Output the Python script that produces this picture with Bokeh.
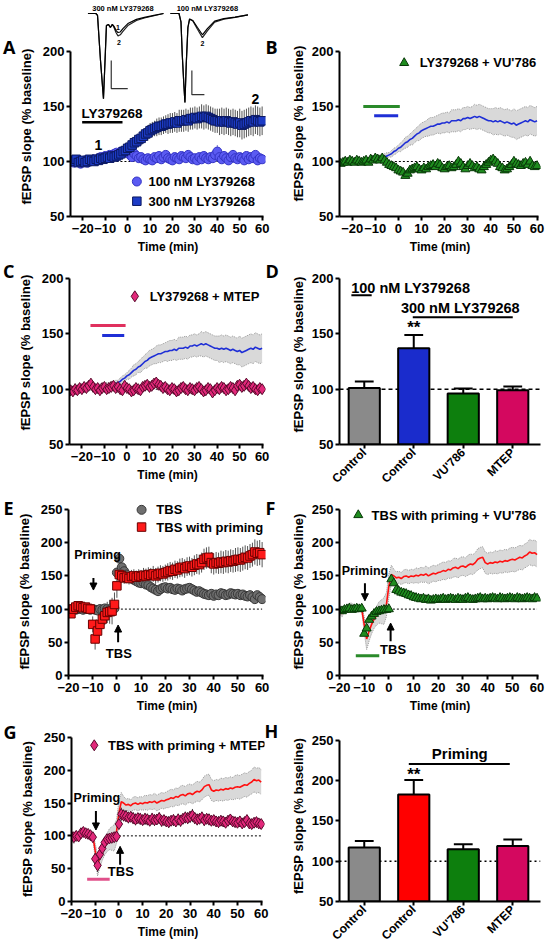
import math
from bokeh.plotting import figure
from bokeh.layouts import column, row
from bokeh.models import (Range1d, FixedTicker, Label, Arrow, NormalHead, CustomJSTickFormatter,
                          LinearAxis)
from bokeh.embed import file_html
from bokeh.resources import INLINE

FONT = "Liberation Sans"
LFONT = "Open Sans"

# ------------------------------------------------------------------ data
t_ly = list(range(-25, 61))          # minutes, panels A-C
ly100 = [100, 99, 101, 100, 98, 100, 101, 99, 100, 101,
         102, 101, 103, 104, 103, 105, 104, 106, 105, 107,
         108, 107, 109, 108, 110, 109, 106, 104, 107, 105,
         103, 104, 102, 101, 103, 102, 101, 104, 103, 105,
         102, 104, 106, 103, 102, 101, 104, 103, 102, 105,
         104, 103, 106, 104, 102, 103, 101, 104, 102, 105,
         103, 102, 104, 103, 106, 109, 104, 102, 105, 103,
         101, 104, 106, 103, 102, 104, 103, 101, 105, 102,
         104, 103, 106, 101, 103, 102]
ly100_sem = [2, 3, 2, 2, 3, 2, 3, 2, 2, 3,
             3, 2, 3, 3, 2, 3, 3, 2, 3, 3,
             3, 3, 2, 3, 3, 3, 3, 2, 3, 3,
             3, 2, 3, 3, 3, 3, 2, 3, 3, 3,
             3, 3, 3, 2, 3, 3, 3, 3, 3, 3,
             3, 3, 3, 3, 2, 3, 3, 3, 3, 3,
             3, 3, 3, 3, 3, 6, 3, 3, 3, 3,
             3, 3, 3, 3, 3, 3, 3, 3, 3, 3,
             3, 3, 3, 3, 3, 3]
ly300 = [101, 100, 102, 99, 100, 101, 99, 100, 102, 101,
         100, 102, 101, 103, 102, 103, 104, 103, 105, 104,
         105, 106, 107, 109, 110, 112, 113, 115, 117, 118,
         120, 121, 123, 125, 126, 128, 129, 130, 131, 132,
         132, 133, 134, 134, 135, 135, 136, 135, 137, 137,
         137, 138, 137, 139, 139, 140, 139, 140, 141, 140,
         141, 140, 139, 138, 137, 137, 136, 137, 136, 137,
         136, 135, 136, 135, 134, 135, 133, 134, 135, 136,
         137, 136, 138, 137, 136, 137]
ly300_sem = [2, 2, 3, 2, 2, 3, 2, 2, 3, 2,
             2, 3, 2, 2, 3, 2, 2, 3, 2, 3,
             3, 2, 3, 3, 3, 3, 4, 4, 5, 5,
             5, 6, 6, 6, 7, 7, 7, 7, 8, 8,
             8, 8, 8, 9, 9, 9, 9, 9, 10, 10,
             10, 10, 10, 10, 10, 10, 10, 10, 11, 11,
             11, 11, 11, 11, 11, 11, 12, 12, 12, 12,
             12, 12, 12, 12, 12, 13, 13, 13, 13, 13,
             13, 13, 13, 13, 13, 13]
ly_vu786 = [98, 99, 100, 99, 101, 100, 99, 101, 100, 99,
            100, 101, 99, 102, 101, 103, 102, 101, 103, 101,
            99, 97, 96, 95, 94, 92, 91, 90, 87, 89,
            92, 93, 94, 95, 93, 92, 94, 93, 95, 96,
            97, 95, 98, 97, 94, 93, 95, 96, 94, 95,
            97, 100, 98, 95, 93, 96, 98, 96, 94, 95,
            93, 92, 95, 97, 99, 101, 102, 100, 98, 95,
            94, 92, 93, 95, 97, 100, 98, 97, 96, 98,
            99, 97, 100, 96, 95, 96]
ly_mtep = [99, 98, 100, 99, 101, 100, 102, 101, 103, 105,
           102, 100, 101, 99, 101, 102, 100, 101, 102, 103,
           101, 102, 100, 99, 103, 101, 100, 98, 99, 101,
           100, 99, 102, 103, 104, 102, 103, 105, 106, 104,
           103, 101, 102, 100, 99, 101, 100, 98, 99, 101,
           102, 100, 99, 101, 100, 99, 101, 102, 100, 98,
           99, 101, 100, 97, 99, 101, 100, 102, 101, 99,
           100, 102, 101, 99, 103, 104, 102, 103, 105, 103,
           101, 102, 100, 99, 101, 100]

t_tbs = list(range(-20, 61))         # minutes, panels E-G
tbs = [100, 98, 101, 99, 100, 101, 99, 100, 101, 99,
       100, 99, 98, 100, 99, 101, 100, 99, 102, 101,
       155, 176, 163, 157, 152, 148, 146, 144, 142, 140,
       139, 140, 137, 136, 133, 131, 129, 127, 130, 132,
       133, 131, 132, 130, 129, 131, 130, 128, 130, 131,
       132, 130, 128, 126, 127, 125, 123, 122, 121, 123,
       120, 122, 121, 124, 123, 121, 122, 124, 123, 122,
       123, 121, 122, 120, 119, 121, 118, 115, 121, 118, 115]
tbs_prim = [97, 93, 100, 103, 105, 104, 102, 103, 101, 100,
            77, 55, 67, 77, 85, 90, 95, 96, 97, 107,
            135, 152, 150, 147, 148, 146, 149, 150, 148, 150,
            149, 151, 150, 152, 151, 153, 150, 152, 154, 153,
            155, 156, 158, 157, 160, 159, 162, 163, 161, 164,
            165, 163, 166, 168, 167, 170, 175, 177, 178, 170,
            168, 170, 169, 171, 170, 172, 171, 173, 172, 174,
            175, 174, 176, 178, 177, 180, 182, 186, 184, 185, 182]
tbs_prim_sem = [4, 5, 4, 3, 4, 5, 4, 3, 4, 4,
                12, 16, 15, 14, 14, 14, 16, 18, 20, 18,
                18, 14, 10, 9, 9, 9, 10, 10, 10, 10,
                10, 11, 11, 11, 11, 12, 12, 12, 12, 12,
                12, 13, 13, 13, 13, 13, 14, 14, 14, 14,
                14, 14, 15, 15, 15, 15, 16, 16, 16, 16,
                16, 16, 16, 17, 17, 17, 17, 17, 17, 18,
                18, 18, 18, 18, 18, 18, 18, 19, 19, 19, 19]
tbs_vu = [98, 97, 99, 100, 101, 99, 100, 101, 100, 101,
          63, 71, 84, 89, 93, 96, 97, 98, 99, 99,
          100, 145, 139, 129, 127, 125, 124, 123, 121, 120,
          118, 117, 116, 115, 116, 114, 115, 113, 114, 115,
          114, 115, 116, 114, 115, 116, 115, 114, 116, 115,
          114, 116, 117, 115, 114, 115, 116, 117, 115, 116,
          115, 116, 117, 116, 115, 117, 116, 115, 116, 117,
          116, 115, 117, 116, 115, 116, 117, 116, 115, 117, 116]
tbs_mtep = [99, 98, 100, 99, 104, 106, 104, 103, 101, 98,
            65, 55, 72, 81, 90, 95, 96, 97, 98, 99,
            118, 133, 131, 130, 128, 129, 127, 125, 127, 126,
            124, 126, 125, 123, 126, 124, 125, 127, 123, 124,
            122, 121, 123, 124, 122, 125, 123, 126, 128, 127,
            129, 131, 127, 125, 126, 128, 124, 126, 125, 123,
            124, 122, 121, 123, 122, 120, 123, 125, 122, 121,
            120, 122, 119, 121, 124, 119, 118, 120, 121, 119, 118]
tbs_mtep_sem = [3, 3, 2, 3, 4, 3, 3, 2, 3, 3,
                8, 10, 9, 8, 8, 7, 7, 6, 6, 6,
                8, 10, 9, 9, 9, 8, 9, 9, 8, 9,
                8, 9, 9, 8, 9, 9, 8, 9, 9, 8,
                8, 9, 8, 9, 8, 9, 9, 8, 9, 9,
                9, 10, 9, 9, 8, 9, 9, 8, 9, 8,
                8, 8, 9, 8, 8, 7, 8, 8, 7, 8,
                7, 8, 7, 7, 8, 7, 7, 7, 7, 6, 6]

bar_labels = ["Control", "Control", "VU'786", "MTEP"]
d_vals = [101, 137, 96, 99]
d_errs = [6, 12, 4.5, 3.5]
h_vals = [117, 183, 115, 119]
h_errs = [8, 18, 6, 8]

# example fEPSP traces (ms, mV)
tr300_ms = [0, 2.4, 2.9, 3.8, 4.7, 5.3, 5.6, 6.2, 6.8, 7.4, 7.9, 8.5, 9.1, 9.8, 10.6, 12.1, 14.7, 17.1, 20.0, 22.9]
tr300_s1 = [0, 0, -0.07, -1.68, -3.04, -1.32, -0.43, -0.39, -0.5, -0.39, -0.46, -0.6, -0.68, -0.66, -0.54, -0.36, -0.21, -0.14, -0.07, 0]
tr300_s2 = [0, 0, -0.07, -1.68, -3.04, -1.32, -0.43, -0.39, -0.5, -0.39, -0.5, -0.68, -0.8, -0.76, -0.64, -0.43, -0.25, -0.16, -0.08, 0]
tr100_ms = [0, 2.6, 3.2, 3.6, 4.1, 4.4, 4.8, 5.3, 5.8, 6.8, 8.2, 9.7, 11.2, 13.4, 16.2, 19.6, 23.5]
tr100_s1 = [0, 0, -0.3, -1.5, -2.6, -3.18, -1.8, -0.5, -0.2, -0.25, -0.5, -0.76, -0.54, -0.27, -0.18, -0.13, -0.05]
tr100_s2 = [0, 0, -0.3, -1.5, -2.6, -3.18, -1.8, -0.5, -0.2, -0.27, -0.56, -0.86, -0.62, -0.31, -0.2, -0.14, -0.05]

for arr in (ly100, ly100_sem, ly300, ly300_sem, ly_vu786, ly_mtep):
    assert len(arr) == len(t_ly), len(arr)
for arr in (tbs, tbs_prim, tbs_prim_sem, tbs_vu, tbs_mtep, tbs_mtep_sem):
    assert len(arr) == len(t_tbs), len(arr)

# ------------------------------------------------------------------ colours
C_CIRC, C_CIRC_L = "#5b5bf2", "#3434c4"
C_SQ, C_SQ_L = "#1d3cc6", "#0b1860"
C_GREEN, C_GREEN_L = "#1f8c1f", "#083808"
C_PINK, C_PINK_L = "#e2287a", "#5a0a2c"
C_GRAY, C_GRAY_L = "#6f6f6f", "#383838"
C_RED, C_RED_L = "#ff1a1a", "#6a0000"
C_BLUE_LINE = "#1f2fd6"
C_RED_LINE = "#ff1010"
BAND = "#d9d9d9"
XTICKS = [-20, -10, 0, 10, 20, 30, 40, 50, 60]
YLABEL = "fEPSP slope (% baseline)"

# layout geometry (pixels)
LW, RW = 281, 265          # column widths
LBL, RBL = 64, 58          # left borders
FW = 201                   # frame widths


def styled(W, H, bl, bt, fw, fh, xr, yr):
    p = figure(width=W, height=H, x_range=Range1d(*xr), y_range=Range1d(*yr),
               min_border_left=bl, min_border_right=W - bl - fw,
               min_border_top=bt, min_border_bottom=H - bt - fh,
               output_backend="svg", toolbar_location=None, title=None)
    p.outline_line_color = None
    p.xgrid.visible = False
    p.ygrid.visible = False
    for ax in (p.xaxis[0], p.yaxis[0]):
        ax.axis_line_width = 2
        ax.axis_line_color = "black"
        ax.major_tick_line_width = 2
        ax.major_tick_line_color = "black"
        ax.major_tick_out = 4
        ax.major_tick_in = 0
        ax.minor_tick_line_color = None
        ax.major_label_text_font = FONT
        ax.major_label_text_font_style = "bold"
        ax.major_label_text_font_size = "13px"
        ax.major_label_text_color = "black"
        ax.axis_label_text_font = FONT
        ax.axis_label_text_font_style = "bold"
        ax.axis_label_text_color = "black"
    p.yaxis.major_label_standoff = 2
    p.xaxis.major_label_standoff = 3
    return p


def side_text(p, side, yc, text, font, size, standoff, orientation="horizontal"):
    # a text placed beside the frame at data height yc, drawn as the single tick label of an empty axis
    ax = LinearAxis(ticker=FixedTicker(ticks=[yc]), bounds=(yc - 0.5, yc + 0.5),
                    formatter=CustomJSTickFormatter(args=dict(s=text), code="return s;"),
                    axis_line_color=None, major_tick_line_color=None, minor_tick_line_color=None,
                    major_tick_out=0, major_tick_in=0, major_label_standoff=standoff,
                    major_label_orientation=orientation,
                    major_label_text_font=font, major_label_text_font_style="bold",
                    major_label_text_font_size=size, major_label_text_color="black")
    p.add_layout(ax, side)


def ylabel(p, yc, standoff):
    side_text(p, "left", yc, YLABEL, FONT, "13px", standoff, "vertical")


def letter(p, ch, yc, side="left", standoff=1):
    side_text(p, side, yc, ch, LFONT, "18px", standoff)


def time_panel(W, H, bl, bt, fh, xr, yr, xb, yb, yticks):
    p = styled(W, H, bl, bt, FW, fh, xr, yr)
    p.xaxis.bounds = xb
    p.yaxis.bounds = yb
    p.xaxis.ticker = FixedTicker(ticks=XTICKS)
    p.yaxis.ticker = FixedTicker(ticks=yticks)
    p.xaxis.axis_label = "Time (min)"
    p.xaxis.axis_label_text_font_size = "12px"
    p.xaxis.axis_label_standoff = 4
    return p


def bar_panel(W, H, bl, bt, fh, yr, yb, yticks, vals, errs):
    p = styled(W, H, bl, bt, FW, fh, (0, 4 * FW / 198), yr)
    p.yaxis.ticker = FixedTicker(ticks=yticks)
    p.yaxis.bounds = yb
    xs = [i + 0.5 for i in range(len(vals))]
    p.xaxis.ticker = FixedTicker(ticks=xs)
    p.xaxis.bounds = (0, 4 * FW / 198)
    p.xaxis.formatter = CustomJSTickFormatter(args=dict(labels=bar_labels),
                                              code="return labels[Math.floor(tick)];")
    p.xaxis.major_label_orientation = math.pi / 4
    p.xaxis.major_label_text_font_size = "12px"
    p.xaxis.major_label_standoff = 2
    tops = [v + e for v, e in zip(vals, errs)]
    p.segment(x0=xs, y0=vals, x1=xs, y1=tops, line_color="black", line_width=2)
    p.segment(x0=[x - 0.19 for x in xs], y0=tops, x1=[x + 0.19 for x in xs], y1=tops,
              line_color="black", line_width=2)
    return p, xs


def txt(p, x, y, s, size="13px", align="left", baseline="middle", **kw):
    p.add_layout(Label(x=x, y=y, text=s, text_font=FONT, text_font_style="bold",
                       text_font_size=size, text_align=align, text_baseline=baseline,
                       text_color="black", **kw))


def arrow(p, x0, y0, x1, y1):
    p.add_layout(Arrow(end=NormalHead(size=7, fill_color="black", line_color="black", line_width=1),
                       x_start=x0, y_start=y0, x_end=x1, y_end=y1,
                       line_width=2, line_color="black"))


def band(p, t, mean, sem, color):
    lo = [m - s for m, s in zip(mean, sem)]
    hi = [m + s for m, s in zip(mean, sem)]
    p.varea(x=t, y1=lo, y2=hi, fill_color=BAND, fill_alpha=1.0)
    p.line(t, lo, line_color="#9a9a9a", line_width=1, line_dash="1 1")
    p.line(t, hi, line_color="#9a9a9a", line_width=1, line_dash="1 1")
    p.line(t, mean, line_color=color, line_width=1.6)


def errbars(p, t, mean, sem, color="#555555"):
    p.segment(x0=t, y0=[m - s for m, s in zip(mean, sem)], x1=t,
              y1=[m + s for m, s in zip(mean, sem)], line_color=color, line_width=1)


def baseline(p, x0, x1, dash="2 2"):
    p.line([x0, x1], [100, 100], line_color="black", line_width=1, line_dash=dash)


L_YSTAND, R_YSTAND = 5, 2

# ------------------------------------------------------------------ row 1
R1 = dict(H=258, bt=3, fh=213)
YR1 = (50, 243.6)
XR_LY = (-25.5, 61.5)
XB_LY = (-25.5, 60.5)

pA = time_panel(LW, R1["H"], LBL, R1["bt"], R1["fh"], XR_LY, YR1, XB_LY, (50, 200), [50, 100, 150, 200])
# example traces on their own (ms, mV) scales
fl, fr = LBL, LBL + FW
pA.extra_x_ranges = {"tr300": Range1d((fl - 82) / 3.4, (fr - 82) / 3.4),
                     "tr100": Range1d((fl - 167) / 3.4, (fr - 167) / 3.4)}
pA.extra_y_ranges = {"trv": Range1d((13 - (R1["bt"] + R1["fh"])) / 28.0, (13 - R1["bt"]) / 28.0)}
for nm, tms, s1, s2 in (("tr300", tr300_ms, tr300_s1, tr300_s2), ("tr100", tr100_ms, tr100_s1, tr100_s2)):
    pA.line(tms, s2, x_range_name=nm, y_range_name="trv", line_color="#222222", line_width=1.2)
    pA.line(tms, s1, x_range_name=nm, y_range_name="trv", line_color="black", line_width=1.2)
for nm, sx, sy, lms, lmv in (("tr300", 7.06, -1.68, 5.0, 1.0), ("tr100", 6.5, -2.04, 3.8, 0.86)):
    pA.line([sx, sx, sx + lms], [sy, sy - lmv, sy - lmv], x_range_name=nm, y_range_name="trv",
            line_color="#333333", line_width=1.2)
txt(pA, 10.6, 0.17, "300 nM LY379268", size="7.5px", align="center", x_range_name="tr300", y_range_name="trv")
txt(pA, 11.2, 0.17, "100 nM LY379268", size="7.5px", align="center", x_range_name="tr100", y_range_name="trv")
txt(pA, 9.1, -0.5, "1", size="7px", align="center", x_range_name="tr300", y_range_name="trv")
txt(pA, 9.4, -1.04, "2", size="7px", align="center", x_range_name="tr300", y_range_name="trv")
txt(pA, 9.7, -1.07, "2", size="7px", align="center", x_range_name="tr100", y_range_name="trv")

baseline(pA, -5, 60)
errbars(pA, t_ly, ly100, ly100_sem, "#7777cc")
pA.scatter(t_ly, ly100, marker="circle", size=9, fill_color=C_CIRC, line_color=C_CIRC_L, line_width=1)
errbars(pA, t_ly, ly300, ly300_sem, "#555555")
pA.scatter(t_ly, ly300, marker="square", size=8.5, fill_color=C_SQ, line_color=C_SQ_L, line_width=1)
txt(pA, -7, 144, "LY379268", size="13.5px", align="center")
pA.line([-20.3, -2.3], [135.6, 135.6], line_color="black", line_width=2.5)
txt(pA, -13, 115, "1", size="14px", align="center")
txt(pA, 57, 157, "2", size="14px", align="center")
pA.scatter([4.1], [81.8], marker="circle", size=9, fill_color=C_CIRC, line_color=C_CIRC_L)
pA.scatter([4.1], [63.9], marker="square", size=8.5, fill_color=C_SQ, line_color=C_SQ_L)
txt(pA, 9.3, 81.8, "100 nM LY379268")
txt(pA, 9.3, 63.9, "300 nM LY379268")
ylabel(pA, 131.8, L_YSTAND)
letter(pA, "A", 204.5)
letter(pA, "B", 204.5, side="right", standoff=0)

pB = time_panel(RW, R1["H"], RBL, R1["bt"], R1["fh"], XR_LY, YR1, XB_LY, (50, 200), [50, 100, 150, 200])
band(pB, t_ly, ly300, ly300_sem, C_BLUE_LINE)
baseline(pB, -5, 60)
pB.scatter(t_ly, ly_vu786, marker="triangle", size=9, fill_color=C_GREEN, line_color=C_GREEN_L, line_width=1)
pB.line([-15.2, 0.6], [150, 150], line_color="#2a8a2a", line_width=3)
pB.line([-10.5, -0.1], [141.6, 141.6], line_color=C_BLUE_LINE, line_width=3)
pB.scatter([2.5], [189.6], marker="triangle", size=9, fill_color=C_GREEN, line_color=C_GREEN_L)
txt(pB, 9.2, 189.6, "LY379268 + VU'786")
ylabel(pB, 134.5, R_YSTAND)

# ------------------------------------------------------------------ row 2
R2 = dict(H=237, bt=5, fh=181)
YR2 = (50, 213.55)

pC = time_panel(LW, R2["H"], LBL, R2["bt"], R2["fh"], XR_LY, YR2, XB_LY, (50, 200), [50, 100, 150, 200])
band(pC, t_ly, ly300, ly300_sem, C_BLUE_LINE)
baseline(pC, -5, 60)
pC.scatter(t_ly, ly_mtep, marker="diamond", size=11, fill_color=C_PINK, line_color=C_PINK_L, line_width=1)
pC.line([-16.2, -0.6], [157.5, 157.5], line_color="#e0305e", line_width=3)
pC.line([-11, -1.2], [148.5, 148.5], line_color=C_BLUE_LINE, line_width=3)
pC.scatter([3.5], [183.9], marker="diamond", size=11, fill_color=C_PINK, line_color=C_PINK_L)
txt(pC, 10.1, 183.9, "LY379268 + MTEP")
ylabel(pC, 133.1, L_YSTAND)
letter(pC, "C", 208.1)
letter(pC, "D", 208.1, side="right", standoff=0)

pD, xsD = bar_panel(RW, R2["H"], RBL, R2["bt"], R2["fh"], YR2, (50, 200), [50, 100, 150, 200], d_vals, d_errs)
pD.line([0, 4 * FW / 198], [100, 100], line_color="black", line_width=1.5, line_dash="4 3")
pD.vbar(x=xsD, top=d_vals, bottom=50, width=0.63,
        fill_color=["#8a8a8a", "#1a2ccc", "#0d7f0d", "#d4085f"], line_color="black", line_width=2)
txt(pD, 0.236, 191.7, "100 nM LY379268", size="14.5px")
pD.line([0.24, 0.65], [184.8, 184.8], line_color="black", line_width=2)
txt(pD, 1.24, 173, "300 nM LY379268", size="14.5px")
pD.line([1.48, 3.5], [165, 165], line_color="black", line_width=2)
txt(pD, 1.5, 156, "**", size="17px", align="center")
ylabel(pD, 131.3, R_YSTAND)

# ------------------------------------------------------------------ row 3
R3 = dict(H=223, bt=5, fh=175)
XR_T = (-20, 61.4)
XB_T = (-20, 60.5)
YR3 = (0, 263.55)

pE = time_panel(LW, R3["H"], LBL, R3["bt"], R3["fh"], XR_T, YR3, XB_T, (0, 250), [0, 50, 100, 150, 200, 250])
baseline(pE, 0, 60)
pE.scatter(t_tbs, tbs, marker="circle", size=9, fill_color=C_GRAY, line_color=C_GRAY_L, line_width=1)
errbars(pE, t_tbs, tbs_prim, tbs_prim_sem, "#555555")
pE.scatter(t_tbs, tbs_prim, marker="square", size=8.5, fill_color=C_RED, line_color=C_RED_L, line_width=1)
arrow(pE, -9.7, 147, -9.7, 128.7)
txt(pE, -8, 182, "Priming", size="12.5px", align="center")
arrow(pE, 0.5, 50, 0.5, 76)
txt(pE, 0.8, 32.5, "TBS", size="13px", align="center")
pE.scatter([10.2], [249.5], marker="circle", size=9, fill_color=C_GRAY, line_color=C_GRAY_L)
pE.scatter([10.2], [223.5], marker="square", size=8.5, fill_color=C_RED, line_color=C_RED_L)
txt(pE, 16.3, 249.5, "TBS")
txt(pE, 16.3, 223.5, "TBS with priming")
ylabel(pE, 126.5, L_YSTAND)
letter(pE, "E", 254.5)
letter(pE, "F", 254.5, side="right", standoff=0)

pF = time_panel(RW, R3["H"], RBL, R3["bt"], R3["fh"], XR_T, YR3, XB_T, (0, 250), [0, 50, 100, 150, 200, 250])
band(pF, t_tbs, tbs_prim, tbs_prim_sem, C_RED_LINE)
baseline(pF, 0, 60)
pF.scatter(t_tbs, tbs_vu, marker="triangle", size=9, fill_color=C_GREEN, line_color=C_GREEN_L, line_width=1)
pF.line([-13.4, -3.9], [29.6, 29.6], line_color="#2a8a2a", line_width=3)
arrow(pF, -9.7, 139, -9.7, 112.6)
txt(pF, -9.7, 157.7, "Priming", size="12.5px", align="center")
arrow(pF, 0.7, 51.5, 0.7, 79)
txt(pF, 1.7, 39, "TBS", size="13px", align="center")
pF.scatter([-12.4], [241.7], marker="triangle", size=9, fill_color=C_GREEN, line_color=C_GREEN_L)
txt(pF, -7, 241.7, "TBS with priming + VU'786")
ylabel(pF, 126.5, R_YSTAND)

# ------------------------------------------------------------------ row 4
R4 = dict(H=232, bt=10, fh=174)

pG = time_panel(LW, R4["H"], LBL, R4["bt"], R4["fh"], XR_T, (0, 263.6), XB_T, (0, 250), [0, 50, 100, 150, 200, 250])
band(pG, t_tbs, tbs_prim, tbs_prim_sem, C_RED_LINE)
baseline(pG, 0, 60)
errbars(pG, t_tbs, tbs_mtep, tbs_mtep_sem, "#333333")
pG.scatter(t_tbs, tbs_mtep, marker="diamond", size=11, fill_color=C_PINK, line_color=C_PINK_L, line_width=1)
pG.line([-13.4, -3.9], [34, 34], line_color="#e0508a", line_width=3)
arrow(pG, -9.7, 138, -9.7, 109)
txt(pG, -9.3, 157, "Priming", size="12.5px", align="center")
arrow(pG, 0.5, 56, 0.5, 84)
txt(pG, 0.8, 46, "TBS", size="13px", align="center")
pG.scatter([-10.4], [238], marker="diamond", size=11, fill_color=C_PINK, line_color=C_PINK_L)
txt(pG, -4.6, 238, "TBS with priming + MTEP")
ylabel(pG, 125.7, L_YSTAND)
letter(pG, "G", 263.0)
letter(pG, "H", 261.5, side="right", standoff=0)

pH, xsH = bar_panel(RW, R4["H"], RBL, R4["bt"], R4["fh"], (50, 264.8), (50, 250), [50, 100, 150, 200, 250],
                    h_vals, h_errs)
pH.line([0, 4 * FW / 198], [100, 100], line_color="black", line_width=1.5, line_dash="2 3")
pH.vbar(x=xsH, top=h_vals, bottom=50, width=0.63,
        fill_color=["#8a8a8a", "#ff0000", "#0d7f0d", "#d4085f"], line_color="black", line_width=2)
txt(pH, 2.43, 234, "Priming", size="15px", align="center")
pH.line([1.4, 3.44], [220.7, 220.7], line_color="black", line_width=2)
txt(pH, 1.5, 208, "**", size="17px", align="center")
ylabel(pH, 156.2, R_YSTAND)

layout = column(row(pA, pB), row(pC, pD), row(pE, pF), row(pG, pH))
open("out.html", "w").write(file_html(layout, INLINE))
